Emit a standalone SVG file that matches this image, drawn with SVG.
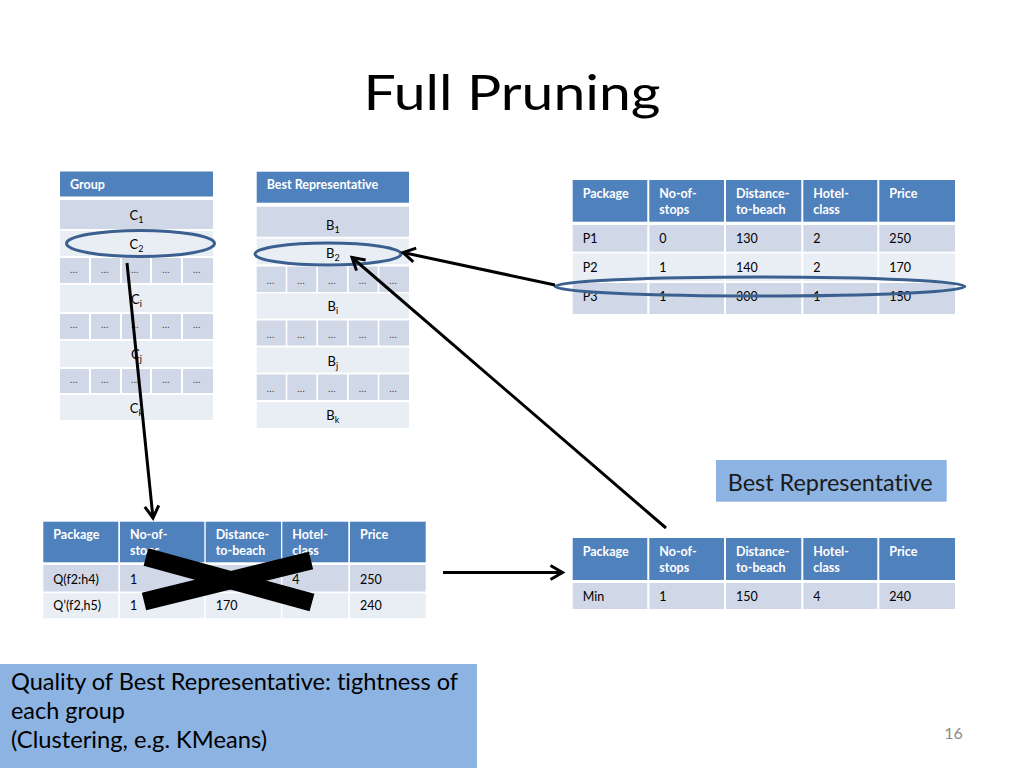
<svg xmlns="http://www.w3.org/2000/svg" width="1024" height="768" viewBox="0 0 1024 768">
<defs>
<style>
text{font-family:Lato,"Liberation Sans",Arial,sans-serif;font-variant-ligatures:none;}
.hd{fill:#4f81bd;}
.dk{fill:#d0d8e8;}
.lt{fill:#e9edf4;}
.ht{fill:#ffffff;font-size:12.5px;font-weight:bold;}
.tt{fill:#000000;font-size:12.5px;}
.ct{fill:#000000;font-size:13px;text-anchor:middle;}
.dt{fill:#444444;font-size:10px;}
.sub{font-size:9px;}
.hl{fill:none;stroke:#3b6090;stroke-width:3;}
.con{fill:none;stroke:#000000;stroke-width:3;}
.box{fill:#8db3e2;}
</style>
<marker id="arr" markerUnits="userSpaceOnUse" markerWidth="18" markerHeight="18" viewBox="0 0 18 18" refX="15" refY="9" orient="auto">
<path d="M3,2 L15,9 L3,16" fill="none" stroke="#000" stroke-width="3"/>
</marker>
</defs>
<rect width="1024" height="768" fill="#ffffff"/>

<g id="title">
<text x="512" y="110" font-size="49" text-anchor="middle" textLength="297" lengthAdjust="spacingAndGlyphs" fill="#000">Full Pruning</text>
</g>

<g id="group-table">
<rect class="hd" x="60" y="171.5" width="153" height="25"/>
<text class="ht" x="70" y="189">Group</text>
<rect class="dk" x="60" y="200" width="153" height="29"/>
<text class="ct" x="136.5" y="219.5">C<tspan class="sub" dy="3">1</tspan></text>
<rect class="lt" x="60" y="231" width="153" height="25"/>
<text class="ct" x="136.5" y="249">C<tspan class="sub" dy="3">2</tspan></text>
<rect class="dk" x="60" y="258" width="29" height="25"/><rect class="dk" x="91" y="258" width="29" height="25"/><rect class="dk" x="122" y="258" width="28" height="25"/><rect class="dk" x="152" y="258" width="29" height="25"/><rect class="dk" x="183" y="258" width="30" height="25"/>
<text class="dt" x="70" y="273">…</text><text class="dt" x="101" y="273">…</text><text class="dt" x="131" y="273">…</text><text class="dt" x="162" y="273">…</text><text class="dt" x="193" y="273">…</text>
<rect class="lt" x="60" y="285" width="153" height="27"/>
<text class="ct" x="136.5" y="304">C<tspan class="sub" dy="3">i</tspan></text>
<rect class="dk" x="60" y="314" width="29" height="25"/><rect class="dk" x="91" y="314" width="29" height="25"/><rect class="dk" x="122" y="314" width="28" height="25"/><rect class="dk" x="152" y="314" width="29" height="25"/><rect class="dk" x="183" y="314" width="30" height="25"/>
<text class="dt" x="70" y="328">…</text><text class="dt" x="101" y="328">…</text><text class="dt" x="131" y="328">…</text><text class="dt" x="162" y="328">…</text><text class="dt" x="193" y="328">…</text>
<rect class="lt" x="60" y="341" width="153" height="26"/>
<text class="ct" x="136.5" y="359">C<tspan class="sub" dy="3">j</tspan></text>
<rect class="dk" x="60" y="369" width="29" height="24"/><rect class="dk" x="91" y="369" width="29" height="24"/><rect class="dk" x="122" y="369" width="28" height="24"/><rect class="dk" x="152" y="369" width="29" height="24"/><rect class="dk" x="183" y="369" width="30" height="24"/>
<text class="dt" x="70" y="383">…</text><text class="dt" x="101" y="383">…</text><text class="dt" x="131" y="383">…</text><text class="dt" x="162" y="383">…</text><text class="dt" x="193" y="383">…</text>
<rect class="lt" x="60" y="395" width="153" height="25"/>
<text class="ct" x="136.5" y="413">C<tspan class="sub" dy="3">k</tspan></text>
</g>

<g id="best-rep-table">
<rect class="hd" x="256.7" y="171.7" width="152.3" height="31"/>
<text class="ht" x="266.7" y="189">Best Representative</text>
<rect class="dk" x="256.7" y="206.7" width="152.3" height="30"/>
<text class="ct" x="332.8" y="229.5">B<tspan class="sub" dy="3">1</tspan></text>
<rect class="lt" x="256.7" y="238.5" width="152.3" height="26"/>
<text class="ct" x="332.8" y="258">B<tspan class="sub" dy="3">2</tspan></text>
<rect class="dk" x="256.7" y="266.5" width="29" height="25.5"/><rect class="dk" x="287.3" y="266.5" width="29" height="25.5"/><rect class="dk" x="318" y="266.5" width="29" height="25.5"/><rect class="dk" x="348.7" y="266.5" width="29" height="25.5"/><rect class="dk" x="379.3" y="266.5" width="29.7" height="25.5"/>
<text class="dt" x="266.7" y="284">…</text><text class="dt" x="297.3" y="284">…</text><text class="dt" x="328" y="284">…</text><text class="dt" x="358.7" y="284">…</text><text class="dt" x="389.3" y="284">…</text>
<rect class="lt" x="256.7" y="293.5" width="152.3" height="25"/>
<text class="ct" x="332.8" y="311">B<tspan class="sub" dy="3">i</tspan></text>
<rect class="dk" x="256.7" y="320.5" width="29" height="25"/><rect class="dk" x="287.3" y="320.5" width="29" height="25"/><rect class="dk" x="318" y="320.5" width="29" height="25"/><rect class="dk" x="348.7" y="320.5" width="29" height="25"/><rect class="dk" x="379.3" y="320.5" width="29.7" height="25"/>
<text class="dt" x="266.7" y="338">…</text><text class="dt" x="297.3" y="338">…</text><text class="dt" x="328" y="338">…</text><text class="dt" x="358.7" y="338">…</text><text class="dt" x="389.3" y="338">…</text>
<rect class="lt" x="256.7" y="347.5" width="152.3" height="25"/>
<text class="ct" x="332.8" y="365.5">B<tspan class="sub" dy="3">j</tspan></text>
<rect class="dk" x="256.7" y="374.5" width="29" height="25.5"/><rect class="dk" x="287.3" y="374.5" width="29" height="25.5"/><rect class="dk" x="318" y="374.5" width="29" height="25.5"/><rect class="dk" x="348.7" y="374.5" width="29" height="25.5"/><rect class="dk" x="379.3" y="374.5" width="29.7" height="25.5"/>
<text class="dt" x="266.7" y="392">…</text><text class="dt" x="297.3" y="392">…</text><text class="dt" x="328" y="392">…</text><text class="dt" x="358.7" y="392">…</text><text class="dt" x="389.3" y="392">…</text>
<rect class="lt" x="256.7" y="402" width="152.3" height="26"/>
<text class="ct" x="332.8" y="420">B<tspan class="sub" dy="3">k</tspan></text>
</g>

<g id="packages-table">
<rect class="hd" x="572.7" y="180" width="74.6" height="41.7"/><rect class="hd" x="649.3" y="180" width="74.7" height="41.7"/><rect class="hd" x="726" y="180" width="75.3" height="41.7"/><rect class="hd" x="803.3" y="180" width="74" height="41.7"/><rect class="hd" x="879.3" y="180" width="75.7" height="41.7"/>
<text class="ht" x="582.7" y="198">Package</text>
<text class="ht" x="659.3" y="198">No-of-</text><text class="ht" x="659.3" y="214">stops</text>
<text class="ht" x="736" y="198">Distance-</text><text class="ht" x="736" y="214">to-beach</text>
<text class="ht" x="813.3" y="198">Hotel-</text><text class="ht" x="813.3" y="214">class</text>
<text class="ht" x="889.3" y="198">Price</text>
<rect class="dk" x="572.7" y="225" width="74.6" height="26.7"/><rect class="dk" x="649.3" y="225" width="74.7" height="26.7"/><rect class="dk" x="726" y="225" width="75.3" height="26.7"/><rect class="dk" x="803.3" y="225" width="74" height="26.7"/><rect class="dk" x="879.3" y="225" width="75.7" height="26.7"/>
<text class="tt" x="582.7" y="243">P1</text><text class="tt" x="659.3" y="243">0</text><text class="tt" x="736" y="243">130</text><text class="tt" x="813.3" y="243">2</text><text class="tt" x="889.3" y="243">250</text>
<rect class="lt" x="572.7" y="253.5" width="74.6" height="27.5"/><rect class="lt" x="649.3" y="253.5" width="74.7" height="27.5"/><rect class="lt" x="726" y="253.5" width="75.3" height="27.5"/><rect class="lt" x="803.3" y="253.5" width="74" height="27.5"/><rect class="lt" x="879.3" y="253.5" width="75.7" height="27.5"/>
<text class="tt" x="582.7" y="271.5">P2</text><text class="tt" x="659.3" y="271.5">1</text><text class="tt" x="736" y="271.5">140</text><text class="tt" x="813.3" y="271.5">2</text><text class="tt" x="889.3" y="271.5">170</text>
<rect class="dk" x="572.7" y="283" width="74.6" height="31"/><rect class="dk" x="649.3" y="283" width="74.7" height="31"/><rect class="dk" x="726" y="283" width="75.3" height="31"/><rect class="dk" x="803.3" y="283" width="74" height="31"/><rect class="dk" x="879.3" y="283" width="75.7" height="31"/>
<text class="tt" x="582.7" y="301">P3</text><text class="tt" x="659.3" y="301">1</text><text class="tt" x="736" y="301">300</text><text class="tt" x="813.3" y="301">1</text><text class="tt" x="889.3" y="301">150</text>
</g>

<g id="query-table">
<rect class="hd" x="43.3" y="521.7" width="75" height="40.6"/><rect class="hd" x="120" y="521.7" width="84.3" height="40.6"/><rect class="hd" x="205.7" y="521.7" width="75.3" height="40.6"/><rect class="hd" x="282.3" y="521.7" width="66" height="40.6"/><rect class="hd" x="350" y="521.7" width="75.7" height="40.6"/>
<text class="ht" x="53.3" y="538.5">Package</text>
<text class="ht" x="130" y="538.5">No-of-</text><text class="ht" x="130" y="555">stops</text>
<text class="ht" x="215.7" y="538.5">Distance-</text><text class="ht" x="215.7" y="555">to-beach</text>
<text class="ht" x="292.3" y="538.5">Hotel-</text><text class="ht" x="292.3" y="555">class</text>
<text class="ht" x="360" y="538.5">Price</text>
<rect class="dk" x="43.3" y="565" width="75" height="26.5"/><rect class="dk" x="120" y="565" width="84.3" height="26.5"/><rect class="dk" x="205.7" y="565" width="75.3" height="26.5"/><rect class="dk" x="282.3" y="565" width="66" height="26.5"/><rect class="dk" x="350" y="565" width="75.7" height="26.5"/>
<text class="tt" x="53.3" y="583.5">Q(f2:h4)</text><text class="tt" x="130" y="583.5">1</text><text class="tt" x="292.3" y="583.5">4</text><text class="tt" x="360" y="583.5">250</text>
<rect class="lt" x="43.3" y="593.3" width="75" height="25"/><rect class="lt" x="120" y="593.3" width="84.3" height="25"/><rect class="lt" x="205.7" y="593.3" width="75.3" height="25"/><rect class="lt" x="282.3" y="593.3" width="66" height="25"/><rect class="lt" x="350" y="593.3" width="75.7" height="25"/>
<text class="tt" x="53.3" y="610">Q’(f2,h5)</text><text class="tt" x="130" y="610">1</text><text class="tt" x="215.7" y="610">170</text><text class="tt" x="360" y="610">240</text>
</g>

<g id="cross">
<line x1="146" y1="557" x2="312" y2="602.5" stroke="#000" stroke-width="18"/>
<line x1="144" y1="601.5" x2="311" y2="560.5" stroke="#000" stroke-width="18"/>
</g>

<g id="result-table">
<rect class="hd" x="572.7" y="538" width="74.6" height="42"/><rect class="hd" x="649.3" y="538" width="74.7" height="42"/><rect class="hd" x="726" y="538" width="75.3" height="42"/><rect class="hd" x="803.3" y="538" width="74" height="42"/><rect class="hd" x="879.3" y="538" width="75.7" height="42"/>
<text class="ht" x="582.7" y="555.5">Package</text>
<text class="ht" x="659.3" y="555.5">No-of-</text><text class="ht" x="659.3" y="572">stops</text>
<text class="ht" x="736" y="555.5">Distance-</text><text class="ht" x="736" y="572">to-beach</text>
<text class="ht" x="813.3" y="555.5">Hotel-</text><text class="ht" x="813.3" y="572">class</text>
<text class="ht" x="889.3" y="555.5">Price</text>
<rect class="dk" x="572.7" y="583" width="74.6" height="26"/><rect class="dk" x="649.3" y="583" width="74.7" height="26"/><rect class="dk" x="726" y="583" width="75.3" height="26"/><rect class="dk" x="803.3" y="583" width="74" height="26"/><rect class="dk" x="879.3" y="583" width="75.7" height="26"/>
<text class="tt" x="582.7" y="600.5">Min</text><text class="tt" x="659.3" y="600.5">1</text><text class="tt" x="736" y="600.5">150</text><text class="tt" x="813.3" y="600.5">4</text><text class="tt" x="889.3" y="600.5">240</text>
</g>

<g id="best-rep-label">
<rect class="box" x="716" y="460" width="230.7" height="41.7"/>
<text x="830.2" y="491" font-size="23" text-anchor="middle" textLength="205" lengthAdjust="spacingAndGlyphs" fill="#1a1a1a">Best Representative</text>
</g>

<g id="quality-note">
<rect class="box" x="0" y="664" width="477" height="104"/>
<text x="11" y="689.5" font-size="23" textLength="447" lengthAdjust="spacingAndGlyphs" fill="#000">Quality of Best Representative: tightness of</text>
<text x="11" y="718.5" font-size="23" textLength="114" lengthAdjust="spacingAndGlyphs" fill="#000">each group</text>
<text x="11" y="747.5" font-size="23" textLength="256" lengthAdjust="spacingAndGlyphs" fill="#000">(Clustering, e.g. KMeans)</text>
</g>

<g id="highlights">
<ellipse id="highlight-c2" class="hl" cx="140.5" cy="243.5" rx="74" ry="13"/>
<ellipse id="highlight-b2" class="hl" cx="328" cy="254" rx="73" ry="11"/>
<ellipse id="highlight-p3" class="hl" cx="760" cy="286.5" rx="205" ry="9.5"/>
</g>

<g id="connectors">
<line class="con" x1="127" y1="263" x2="153" y2="518" marker-end="url(#arr)"/>
<line class="con" x1="555" y1="285" x2="403" y2="252.5" marker-end="url(#arr)"/>
<line class="con" x1="666" y1="528" x2="352" y2="257.5" marker-end="url(#arr)"/>
<line class="con" x1="443" y1="572.5" x2="562.5" y2="572.5" marker-end="url(#arr)"/>
</g>

<g id="page-number">
<text x="953.5" y="738.5" font-size="16" text-anchor="middle" fill="#8b8b8b">16</text>
</g>
</svg>
